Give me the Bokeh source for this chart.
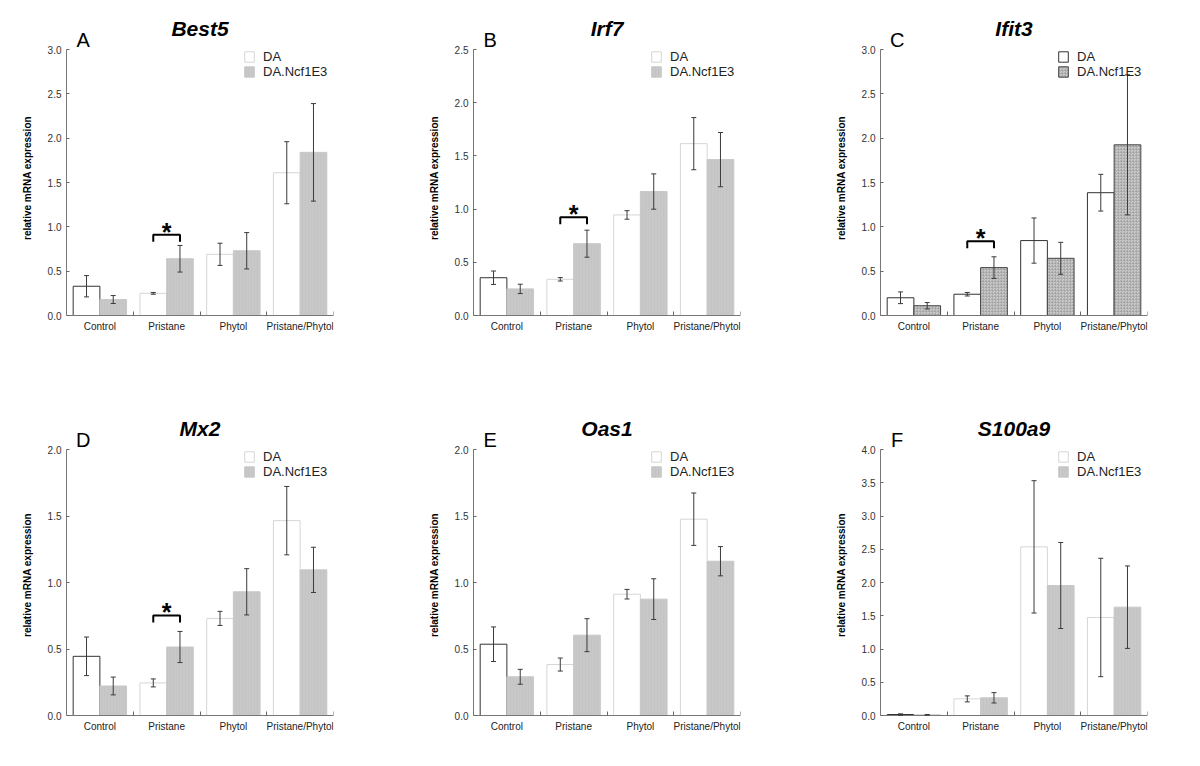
from bokeh.plotting import figure
from bokeh.models import (ColumnDataSource, Range1d, FixedTicker, PrintfTickFormatter,
                          Whisker, TeeHead, Label, Legend, LegendItem)
from bokeh.layouts import column, row
from bokeh.embed import file_html
from bokeh.resources import INLINE
from bokeh.core.properties import value

# ---------------- data ----------------
categories = ["Control", "Pristane", "Phytol", "Pristane/Phytol"]
series_names = ["DA", "DA.Ncf1E3"]

genes = ["Best5", "Irf7", "Ifit3", "Mx2", "Oas1", "S100a9"]
letters = ["A", "B", "C", "D", "E", "F"]
y_max = [3.0, 2.5, 3.0, 2.0, 2.0, 4.0]

best5_da = [0.33, 0.25, 0.69, 1.61]
best5_da_err = [0.12, 0.01, 0.125, 0.35]
best5_ncf = [0.18, 0.64, 0.73, 1.84]
best5_ncf_err = [0.045, 0.15, 0.205, 0.55]

irf7_da = [0.355, 0.34, 0.945, 1.615]
irf7_da_err = [0.063, 0.016, 0.04, 0.245]
irf7_ncf = [0.25, 0.675, 1.165, 1.465]
irf7_ncf_err = [0.044, 0.127, 0.166, 0.255]

ifit3_da = [0.20, 0.24, 0.845, 1.385]
ifit3_da_err = [0.066, 0.02, 0.255, 0.207]
ifit3_ncf = [0.11, 0.54, 0.645, 1.925]
ifit3_ncf_err = [0.036, 0.122, 0.18, 0.79]

mx2_da = [0.445, 0.245, 0.73, 1.465]
mx2_da_err = [0.145, 0.03, 0.053, 0.257]
mx2_ncf = [0.222, 0.515, 0.93, 1.095]
mx2_ncf_err = [0.067, 0.117, 0.174, 0.17]

oas1_da = [0.536, 0.383, 0.912, 1.476]
oas1_da_err = [0.13, 0.049, 0.036, 0.197]
oas1_ncf = [0.291, 0.604, 0.875, 1.16]
oas1_ncf_err = [0.056, 0.124, 0.153, 0.11]

s100a9_da = [0.015, 0.25, 2.536, 1.474]
s100a9_da_err = [0.01, 0.045, 0.995, 0.89]
s100a9_ncf = [0.01, 0.266, 1.955, 1.629]
s100a9_ncf_err = [0.005, 0.078, 0.647, 0.62]

# significance bracket height over the Pristane pair (None = no bracket)
sig_bracket = [0.91, 0.924, 0.838, 0.752, None, None]

da_values = [best5_da, irf7_da, ifit3_da, mx2_da, oas1_da, s100a9_da]
da_errors = [best5_da_err, irf7_da_err, ifit3_da_err, mx2_da_err, oas1_da_err, s100a9_da_err]
ncf_values = [best5_ncf, irf7_ncf, ifit3_ncf, mx2_ncf, oas1_ncf, s100a9_ncf]
ncf_errors = [best5_ncf_err, irf7_ncf_err, ifit3_ncf_err, mx2_ncf_err, oas1_ncf_err, s100a9_ncf_err]

FONT = "Liberation Sans"
PLOT_H = 266          # pixel height of the value axis
HEAD = 41             # extra pixels above the value axis for title/legend
FRAME_W = 267
NCF_FILL = "#c8c8c8"
DARK = "#333333"
LIGHT_EDGE = "#d6d6d6"


def make_panel(i, width, left, top, foot, bottom):
    ymax = y_max[i]
    px_unit = ymax / PLOT_H
    frame_h = PLOT_H + HEAD + foot
    height = top + frame_h + bottom
    hatched = (i == 2)
    right = width - left - FRAME_W
    p = figure(width=width, height=height, output_backend="svg", toolbar_location=None,
               x_range=Range1d(0, len(categories)),
               y_range=Range1d(-foot * px_unit, ymax + HEAD * px_unit),
               min_border_left=left, min_border_right=right,
               min_border_top=top, min_border_bottom=bottom)
    p.outline_line_color = None
    p.xgrid.visible = False
    p.ygrid.visible = False
    p.background_fill_color = "white"
    p.border_fill_color = "white"

    centers = [k + 0.5 for k in range(len(categories))]
    da_x = [c - 0.2 for c in centers]
    ncf_x = [c + 0.2 for c in centers]

    da_edge = [DARK if (k == 0 or hatched) else LIGHT_EDGE for k in range(len(categories))]
    da_src = ColumnDataSource(dict(
        x=da_x, top=da_values[i], edge=da_edge,
        upper=[v + e for v, e in zip(da_values[i], da_errors[i])],
        lower=[v - e for v, e in zip(da_values[i], da_errors[i])]))
    ncf_src = ColumnDataSource(dict(
        x=ncf_x, top=ncf_values[i],
        upper=[v + e for v, e in zip(ncf_values[i], ncf_errors[i])],
        lower=[v - e for v, e in zip(ncf_values[i], ncf_errors[i])]))

    r_da = p.vbar(x="x", top="top", bottom=0, width=0.4, source=da_src,
                  fill_color="white", line_color="edge", line_width=1)
    if hatched:
        r_ncf = p.vbar(x="x", top="top", bottom=0, width=0.4, source=ncf_src,
                       fill_color="#cfcfcf", line_color="#444444", line_width=1,
                       hatch_pattern="criss_cross", hatch_color="#9a9a9a",
                       hatch_scale=3, hatch_weight=0.6, hatch_alpha=0.8)
    else:
        r_ncf = p.vbar(x="x", top="top", bottom=0, width=0.4, source=ncf_src,
                       fill_color=NCF_FILL, line_color=NCF_FILL, line_width=1,
                       hatch_pattern="vertical_line", hatch_color="#bcbcbc",
                       hatch_scale=3, hatch_weight=0.6, hatch_alpha=0.6)

    for src in (da_src, ncf_src):
        w = Whisker(source=src, base="x", upper="upper", lower="lower",
                    line_color="#3a3a3a", line_width=1, level="overlay",
                    upper_head=TeeHead(size=5, line_color="#3a3a3a", line_width=1),
                    lower_head=TeeHead(size=5, line_color="#3a3a3a", line_width=1))
        p.add_layout(w)

    # significance bracket over the Pristane pair
    if sig_bracket[i] is not None:
        yb = sig_bracket[i]
        leg = 7 * px_unit
        xa, xb = da_x[1], ncf_x[1]
        p.line(x=[xa, xa, xb, xb], y=[yb - leg, yb, yb, yb - leg],
               line_color="black", line_width=2)
        p.text(x=[(xa + xb) / 2], y=[yb + 3 * px_unit], text=["*"],
               text_font=value(FONT), text_font_style="bold", text_font_size="25px",
               text_align="center", text_baseline="middle", text_color="black")

    # title and panel letter
    p.add_layout(Label(x=len(categories) / 2, y=ymax, y_offset=21, text=genes[i],
                       text_font=FONT, text_font_style="bold italic", text_font_size="21px",
                       text_align="center", text_baseline="middle", text_color="black"))
    p.add_layout(Label(x=0.25, y=ymax, y_offset=10, text=letters[i],
                       text_font=FONT, text_font_size="20px",
                       text_align="center", text_baseline="middle", text_color="black"))

    # axes
    xa_ = p.xaxis[0]
    xa_.fixed_location = 0
    xa_.ticker = FixedTicker(ticks=centers, minor_ticks=[1, 2, 3, 4])
    xa_.major_label_overrides = {c: name for c, name in zip(centers, categories)}
    xa_.major_tick_in = 0
    xa_.major_tick_out = 0
    xa_.minor_tick_in = 4
    xa_.minor_tick_out = 0
    xa_.minor_tick_line_color = "#666666"
    xa_.axis_line_color = "#777777"
    xa_.major_label_text_font = FONT
    xa_.major_label_text_font_size = "10px"
    xa_.major_label_text_color = "#222222"
    xa_.major_label_standoff = 5

    ya = p.yaxis[0]
    nt = int(round(ymax / 0.5))
    ya.bounds = (0, ymax)
    ya.ticker = FixedTicker(ticks=[0.5 * k for k in range(nt + 1)], minor_ticks=[])
    ya.formatter = PrintfTickFormatter(format="%.1f")
    ya.major_tick_in = 3
    ya.major_tick_out = 0
    ya.major_tick_line_color = "#666666"
    ya.axis_line_color = "#777777"
    ya.major_label_text_font = FONT
    ya.major_label_text_font_size = "10px"
    ya.major_label_text_color = "#333333"
    ya.major_label_standoff = 5
    ya.axis_label = "relative mRNA expression"
    ya.axis_label_text_font = FONT
    ya.axis_label_text_font_size = "10px"
    ya.axis_label_text_font_style = "bold"
    ya.axis_label_text_color = "black"
    ya.axis_label_standoff = 12

    legend = Legend(items=[LegendItem(label=series_names[0], renderers=[r_da], index=1),
                           LegendItem(label=series_names[1], renderers=[r_ncf], index=1)],
                    location=(177, frame_h - HEAD - 30), orientation="vertical",
                    glyph_width=12, glyph_height=13, label_height=12, spacing=0,
                    padding=0, margin=0, label_standoff=8,
                    label_text_font=FONT, label_text_font_size="13px",
                    label_text_color="#222222", label_text_baseline="middle",
                    border_line_alpha=0, background_fill_alpha=0)
    p.add_layout(legend, "center")
    return p


widths = [403, 407, 380]
lefts = [66, 70, 70]

# top row: 400px tall, frame starts 8px below its top; bottom row frame starts at y=408
top_row = [make_panel(k, widths[k], lefts[k], 8, 32, 53) for k in range(3)]
bottom_row = [make_panel(k + 3, widths[k], lefts[k], 8, 26, 20) for k in range(3)]

layout = column(row(*top_row), row(*bottom_row))
open("out.html", "w").write(file_html(layout, INLINE))
